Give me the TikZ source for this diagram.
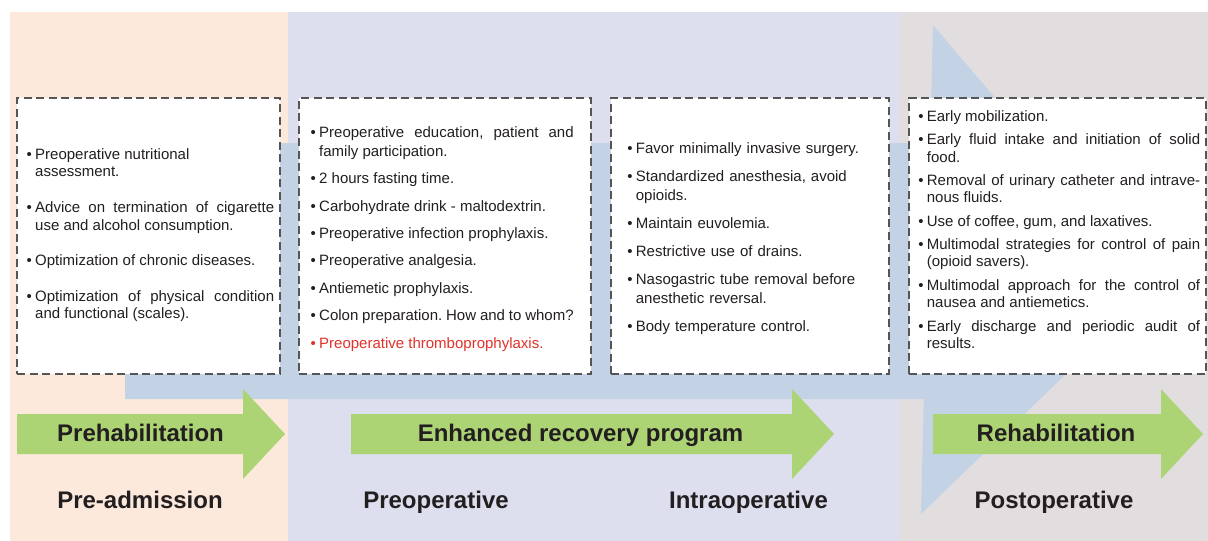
\documentclass[tikz,border=0pt]{standalone}
\usepackage{fontspec}
\setmainfont{Liberation Sans}
\frenchspacing

\definecolor{peach}{HTML}{FDE9DC}
\definecolor{lav}{HTML}{DDDFEE}
\definecolor{warmgray}{HTML}{E2DEDF}
\definecolor{flowblue}{HTML}{C3D3E5}
\definecolor{leaf}{HTML}{ADD474}
\definecolor{edgegray}{HTML}{555555}
\definecolor{ink}{HTML}{231F20}
\definecolor{alert}{HTML}{E0322A}

% bullet hung to the left of the text, plus a fixed first-line height
\newcommand{\bpoint}{\noindent\llap{\textbullet\hspace{3.4pt}}\rule{0pt}{11pt}}

\tikzset{
  card/.style={draw=edgegray, fill=white, line width=2.4pt,
    dash pattern=on 8pt off 4.5pt, anchor=north west, inner sep=0pt},
  listtext/.style={anchor=north west, inner sep=0pt, text width=#1,
    text=ink, align=justify},
  raggedlist/.style={anchor=north west, inner sep=0pt, text width=#1,
    text=ink, align=left},
  phase/.style={anchor=base, text=ink, inner sep=0pt,
    font=\fontsize{24pt}{28pt}\selectfont\bfseries},
}

\begin{document}
\begin{tikzpicture}[x=1pt,y=-1pt]
\useasboundingbox (0,0) rectangle (1208,541);
\fill[white] (0,0) rectangle (1208,541);

% phase bands
\fill[peach] (10,12) rectangle (288,541);
\fill[lav] (288,12) rectangle (899,541);
\fill[warmgray] (899,12) rectangle (1208,541);

% large background arrow
\fill[flowblue] (125,143) -- (930.1,143) -- (933,25) -- (1156,287)
  -- (921,514) -- (923.8,399) -- (125,399) -- cycle;

% dashed cards
\node[card, minimum width=263pt, minimum height=276pt] (box1) at (16,97) {};
\node[card, minimum width=292pt, minimum height=276pt] (box2) at (298,97) {};
\node[card, minimum width=278pt, minimum height=276pt] (box3) at (610,97) {};
\node[card, minimum width=297pt, minimum height=276pt] (box4) at (908,97) {};

% card contents
\node[listtext=239pt, font=\fontsize{15pt}{17.7pt}\selectfont] (list1) at (35,148) {%
\bpoint Preoperative nutritional\\assessment.\par\vspace{17.8pt}
\bpoint Advice on termination of cigarette\linebreak use and alcohol consumption.\par\vspace{17.8pt}
\bpoint Optimization of chronic diseases.\par\vspace{17.8pt}
\bpoint Optimization of physical condition\linebreak and functional (scales).};

\node[listtext=254.5pt, font=\fontsize{15pt}{18.3pt}\selectfont] (list2) at (319,126.7) {%
\bpoint Preoperative education, patient and\linebreak family participation.\par\vspace{9.1pt}
\bpoint 2 hours fasting time.\par\vspace{9.1pt}
\bpoint Carbohydrate drink - maltodextrin.\par\vspace{9.1pt}
\bpoint Preoperative infection prophylaxis.\par\vspace{9.1pt}
\bpoint Preoperative analgesia.\par\vspace{9.1pt}
\bpoint Antiemetic prophylaxis.\par\vspace{9.1pt}
\bpoint Colon preparation. How and to whom?\par\vspace{9.1pt}
{\color{alert}\bpoint Preoperative thromboprophylaxis.}};

\node[raggedlist=235pt, font=\fontsize{15pt}{18.7pt}\selectfont] (list3) at (635.7,142.7) {%
\bpoint Favor minimally invasive surgery.\par\vspace{9.3pt}
\bpoint Standardized anesthesia, avoid\\opioids.\par\vspace{9.3pt}
\bpoint Maintain euvolemia.\par\vspace{9.3pt}
\bpoint Restrictive use of drains.\par\vspace{9.3pt}
\bpoint Nasogastric tube removal before\\anesthetic reversal.\par\vspace{9.3pt}
\bpoint Body temperature control.};

\node[listtext=273.3pt, font=\fontsize{15pt}{17.5pt}\selectfont] (list4) at (926.7,110) {%
\bpoint Early mobilization.\par\vspace{5.8pt}
\bpoint Early fluid intake and initiation of solid\linebreak food.\par\vspace{5.8pt}
\bpoint Removal of urinary catheter and intrave-\linebreak nous fluids.\par\vspace{5.8pt}
\bpoint Use of coffee, gum, and laxatives.\par\vspace{5.8pt}
\bpoint Multimodal strategies for control of pain\linebreak (opioid savers).\par\vspace{5.8pt}
\bpoint Multimodal approach for the control of\linebreak nausea and antiemetics.\par\vspace{5.8pt}
\bpoint Early discharge and periodic audit of\linebreak results.};

% green phase arrows
\fill[leaf] (17,414) -- (243,414) -- (243,389) -- (285,434) -- (243,479)
  -- (243,454) -- (17,454) -- cycle;
\fill[leaf] (351,414) -- (792,414) -- (792,389) -- (834,434) -- (792,479)
  -- (792,454) -- (351,454) -- cycle;
\fill[leaf] (933,414) -- (1161,414) -- (1161,389) -- (1203,434) -- (1161,479)
  -- (1161,454) -- (933,454) -- cycle;

% arrow titles
\node[phase] (prehab) at (140.5,441) {Prehabilitation};
\node[phase] (erp) at (580.5,441) {Enhanced recovery program};
\node[phase] (rehab) at (1056,441) {Rehabilitation};

% stage names
\node[phase] (preadm) at (140,508) {Pre-admission};
\node[phase] (preop) at (436,508) {Preoperative};
\node[phase] (intraop) at (748.5,508) {Intraoperative};
\node[phase] (postop) at (1054,508) {Postoperative};
\end{tikzpicture}
\end{document}
